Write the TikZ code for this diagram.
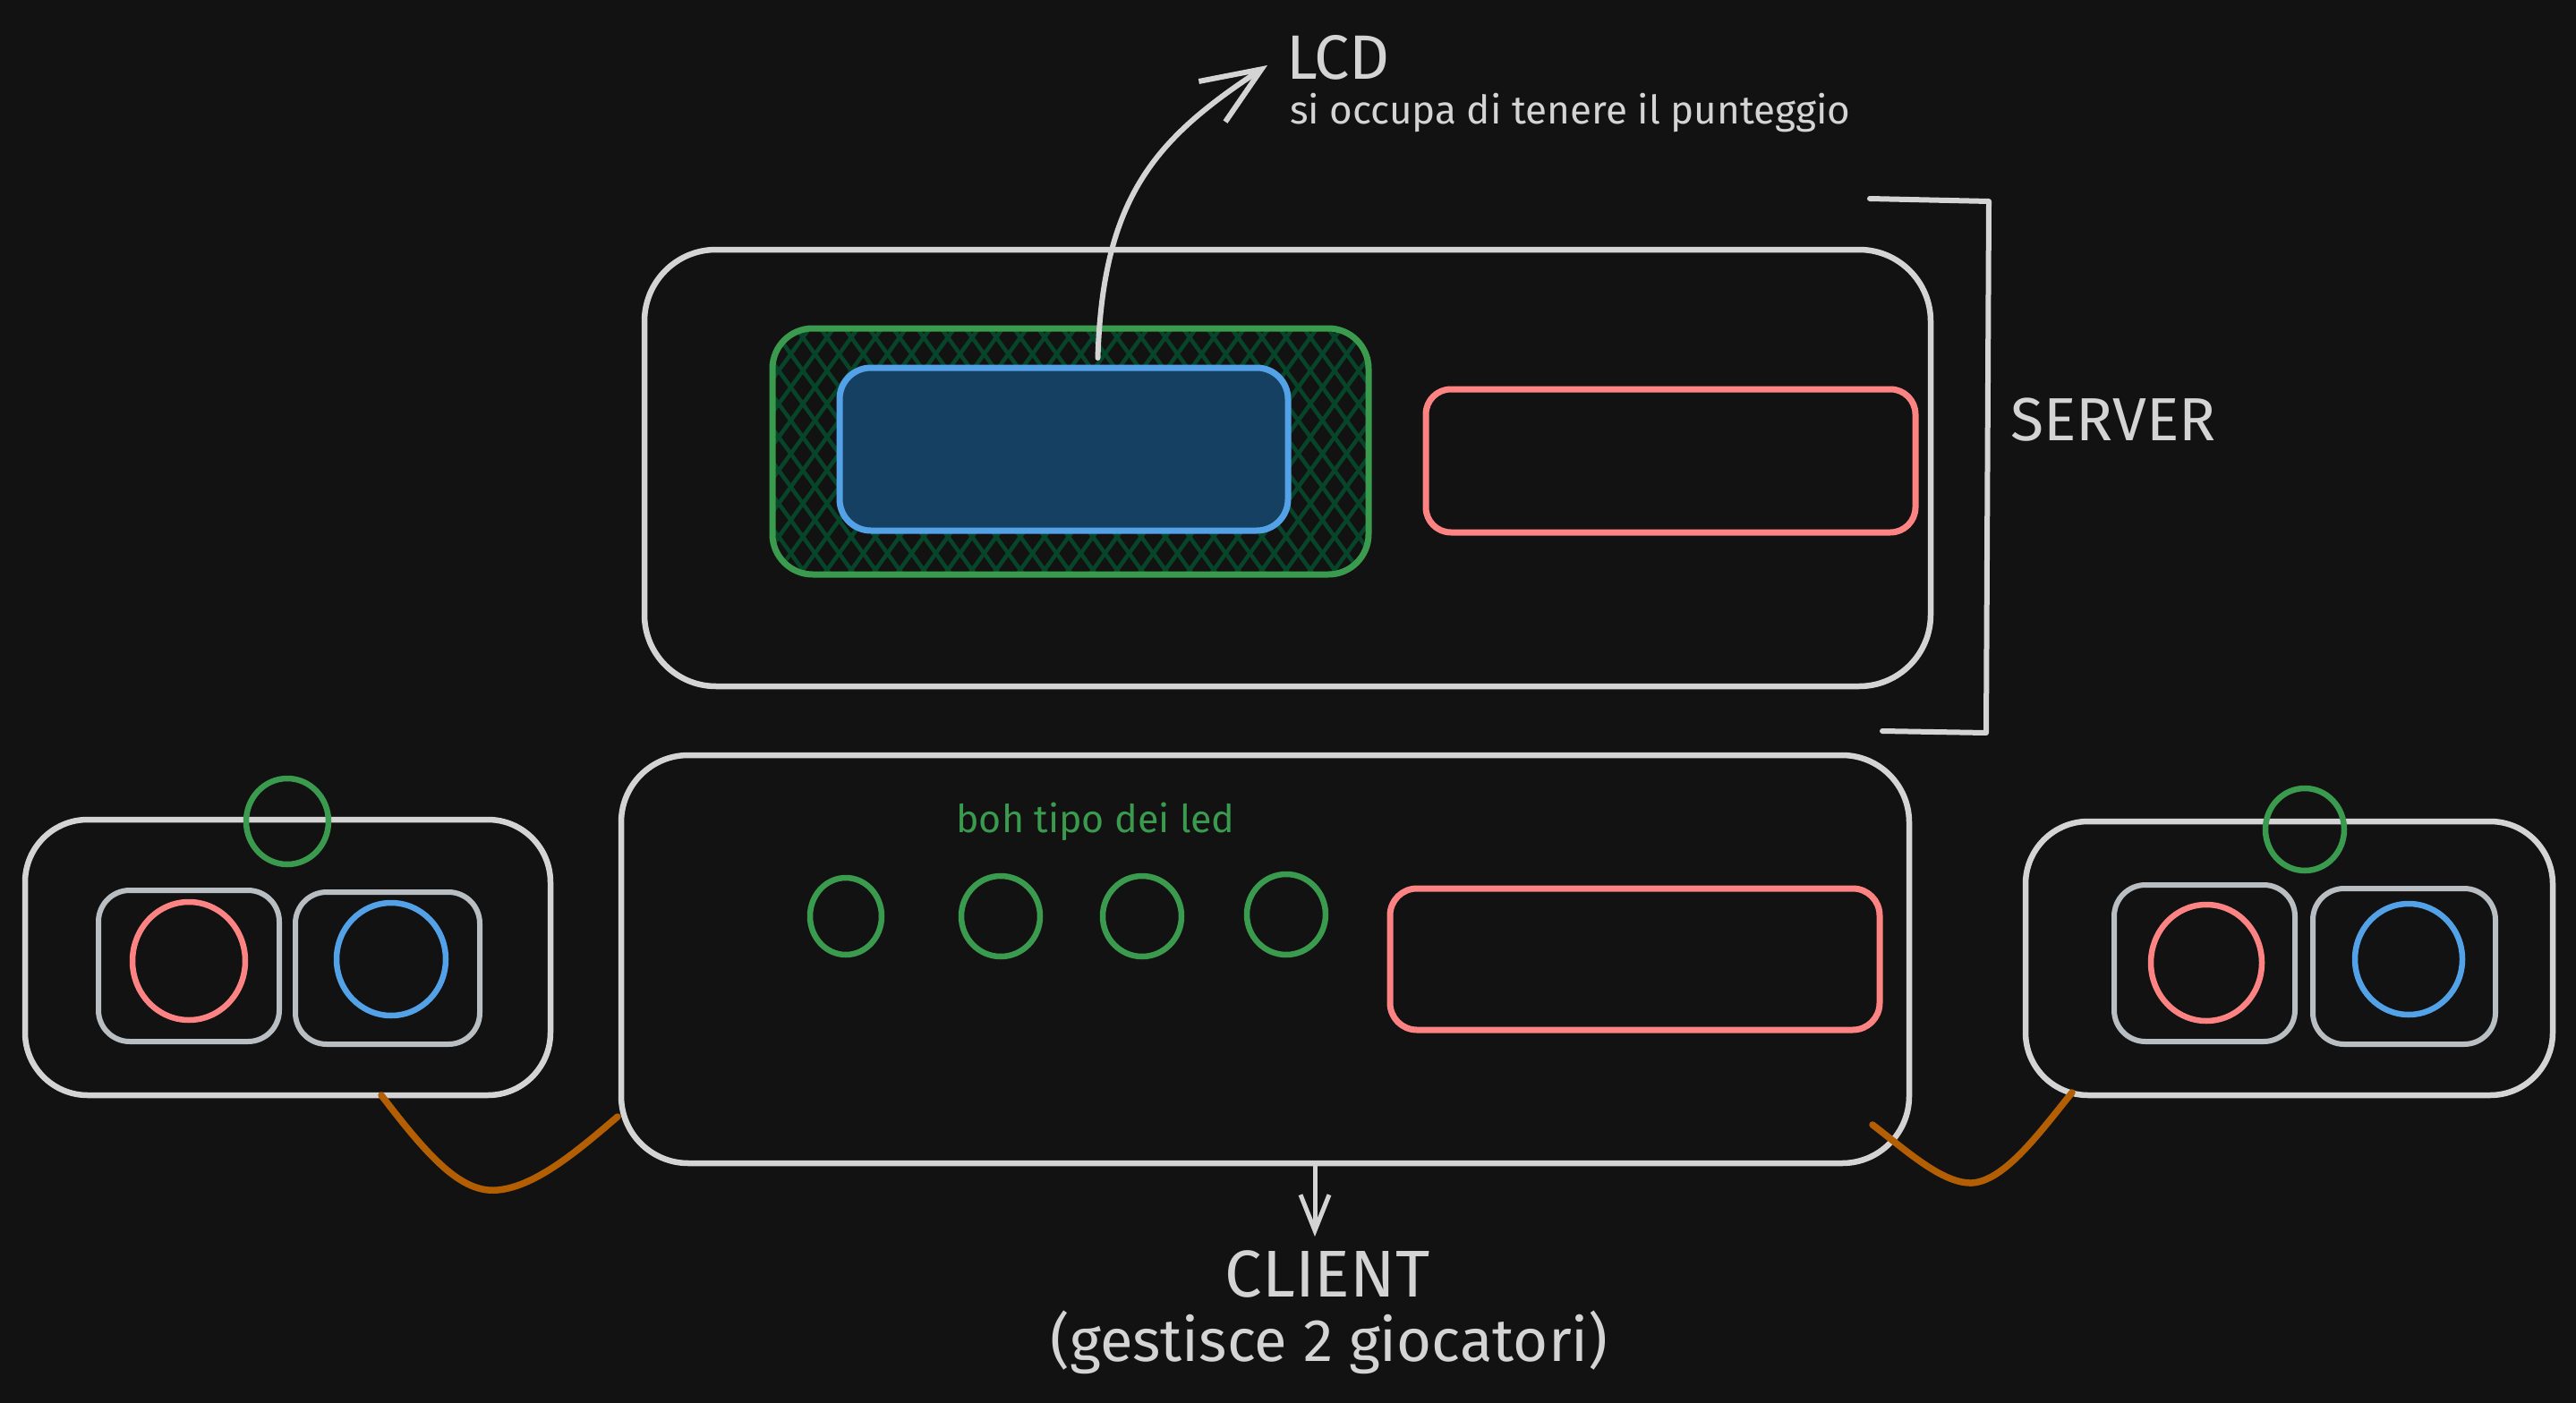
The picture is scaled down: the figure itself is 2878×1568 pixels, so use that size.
\documentclass[tikz,border=0pt]{standalone}
\usepackage{fontspec}
\setmainfont{Fira Sans}
\usetikzlibrary{arrows.meta,calc,shapes.geometric}
\definecolor{bgc}{HTML}{121212}
\definecolor{wline}{HTML}{D4D4D4}
\definecolor{gline}{HTML}{B8BEC2}
\definecolor{grn}{HTML}{3A9A4E}
\definecolor{hatchc}{HTML}{07452A}
\definecolor{blu}{HTML}{53A1E6}
\definecolor{blufill}{HTML}{164061}
\definecolor{redc}{HTML}{FF8383}
\definecolor{orng}{HTML}{B35F00}
\begin{document}
\begin{tikzpicture}[x=1pt,y=-1pt,
  line cap=round, line join=round,
  rbox/.style={draw=wline,line width=6.5pt,inner sep=0pt,outer sep=0pt,rounded corners=#1},
  ibox/.style={draw=gline,line width=6pt,inner sep=0pt,outer sep=0pt,rounded corners=35pt},
  gbox/.style={draw=grn,line width=7pt,inner sep=0pt,outer sep=0pt,rounded corners=45pt},
  bbox/.style={draw=blu,fill=blufill,line width=7pt,inner sep=0pt,outer sep=0pt,rounded corners=35pt},
  redbox/.style={draw=redc,line width=7pt,inner sep=0pt,outer sep=0pt,rounded corners=#1},
  ledc/.style={ellipse,draw=grn,line width=6.5pt,inner sep=0pt,outer sep=0pt},
  btn/.style={ellipse,draw=#1,line width=6.5pt,inner sep=0pt,outer sep=0pt},
  hatch/.style={draw=hatchc,line width=4.5pt},
  txt/.style={text=wline,inner sep=0pt,outer sep=0pt},
  arrs/.style={draw=wline,line width=6pt,-{Straight Barb[length=66pt,width=54pt]}},
  arrd/.style={draw=wline,line width=5pt,-{Straight Barb[length=40pt,width=32pt]}},
  cable/.style={draw=orng,line width=7.5pt},
  bracketline/.style={draw=wline,line width=6pt}
]
\fill[bgc] (0,0) rectangle (2878,1568);
\useasboundingbox (0,0) rectangle (2878,1568);

% ---------- SERVER ----------
\node[rbox=80pt,minimum width=1437pt,minimum height=488pt] (server) at (1438.5,523) {};
\begin{scope}
  \clip[rounded corners=45pt] (863,367) rectangle (1529,642);
  \foreach \i in {0,...,45} {
    \draw[hatch] ({600+\i*27},340) -- ++(240,330);
    \draw[hatch] ({600+\i*27},340) -- ++(-240,330);
  }
\end{scope}
\node[gbox,minimum width=666pt,minimum height=275pt] (lcdframe) at (1196,504.5) {};
\node[bbox,minimum width=501pt,minimum height=182pt] (lcd) at (1188.5,502) {};
\node[redbox=28pt,minimum width=547pt,minimum height=160pt] (srvred) at (1866.5,515) {};

% bracket + label
\coordinate (bt1) at (2089,222);
\coordinate (bt2) at (2222,225);
\coordinate (bb2) at (2219,819);
\coordinate (bb1) at (2103,817);
\draw[bracketline] (bt1) -- (bt2) -- (bb2) -- (bb1);
\node[txt,font=\fontsize{68}{74}\selectfont] (serverlbl) at (2361,469) {SERVER};

% LCD label and arrow
\node[txt,anchor=west,font=\fontsize{70}{76}\selectfont] (lcdlbl) at (1437,64) {LCD};
\node[txt,anchor=west,font=\fontsize{44}{48}\selectfont] (lcdnote) at (1441,126) {si occupa di tenere il punteggio};
\draw[arrs] ($(lcd.north)+(38,-11)$) .. controls (1232,220) and (1291,155) .. ($(lcdlbl.west)+(-21,9)$);

% ---------- CLIENT ----------
\node[rbox=75pt,minimum width=1439pt,minimum height=456pt] (client) at (1413.5,1072) {};
\node[text=grn,inner sep=0pt,font=\fontsize{43}{47}\selectfont] (ledlbl) at (1224,918) {boh tipo dei led};
\node[ledc,minimum width=80pt,minimum height=86pt] (led1) at (945,1024) {};
\node[ledc,minimum width=88pt,minimum height=90pt] (led2) at (1118,1024) {};
\node[ledc,minimum width=88pt,minimum height=90pt] (led3) at (1276,1024) {};
\node[ledc,minimum width=88pt,minimum height=90pt] (led4) at (1437,1022) {};
\node[redbox=30pt,minimum width=547pt,minimum height=158pt] (clired) at (1826.5,1072) {};

\node[txt,font=\fontsize{74}{80}\selectfont] (clientlbl) at (1483,1424) {CLIENT};
\node[txt,font=\fontsize{67}{72}\selectfont] (clientnote) at (1485,1500) {(gestisce 2 giocatori)};
\coordinate (cend) at (1469,1382);
\draw[arrd] ($(client.south)+(55.5,0)$) -- (cend);

% ---------- LEFT CONTROLLER ----------
\node[rbox=70pt,minimum width=587pt,minimum height=308pt] (ctrlL) at (321.5,1070) {};
\node[btn=grn,minimum width=92pt,minimum height=96pt] (ledL) at (321,918) {};
\node[ibox,minimum width=202pt,minimum height=169pt] (padL1) at (211,1079.5) {};
\node[ibox,minimum width=206pt,minimum height=170pt] (padL2) at (433,1082) {};
\node[btn=redc,minimum width=126pt,minimum height=132pt] (btnL1) at (211,1074) {};
\node[btn=blu,minimum width=122pt,minimum height=126pt] (btnL2) at (437,1072) {};

% ---------- RIGHT CONTROLLER ----------
\node[rbox=70pt,minimum width=589pt,minimum height=306pt] (ctrlR) at (2557.5,1071) {};
\node[btn=grn,minimum width=88pt,minimum height=92pt] (ledR) at (2575,927) {};
\node[ibox,minimum width=202pt,minimum height=175pt] (padR1) at (2463,1076.5) {};
\node[ibox,minimum width=204pt,minimum height=174pt] (padR2) at (2686,1080) {};
\node[btn=redc,minimum width=124pt,minimum height=130pt] (btnR1) at (2465,1076) {};
\node[btn=blu,minimum width=120pt,minimum height=124pt] (btnR2) at (2691,1072) {};

% ---------- CABLES ----------
\draw[cable] ($(ctrlL.south)+(104.5,0)$) .. controls (478,1292) and (515,1334) .. (556,1330)
  .. controls (600,1326) and (650,1282) .. ($(client.west)+(-4,176)$);
\draw[cable] ($(client.east)+(-41,185)$) .. controls (2130,1286) and (2170,1323) .. (2203,1322)
  .. controls (2240,1320) and (2280,1264) .. ($(ctrlR.south west)+(52,-3)$);
\end{tikzpicture}
\end{document}
